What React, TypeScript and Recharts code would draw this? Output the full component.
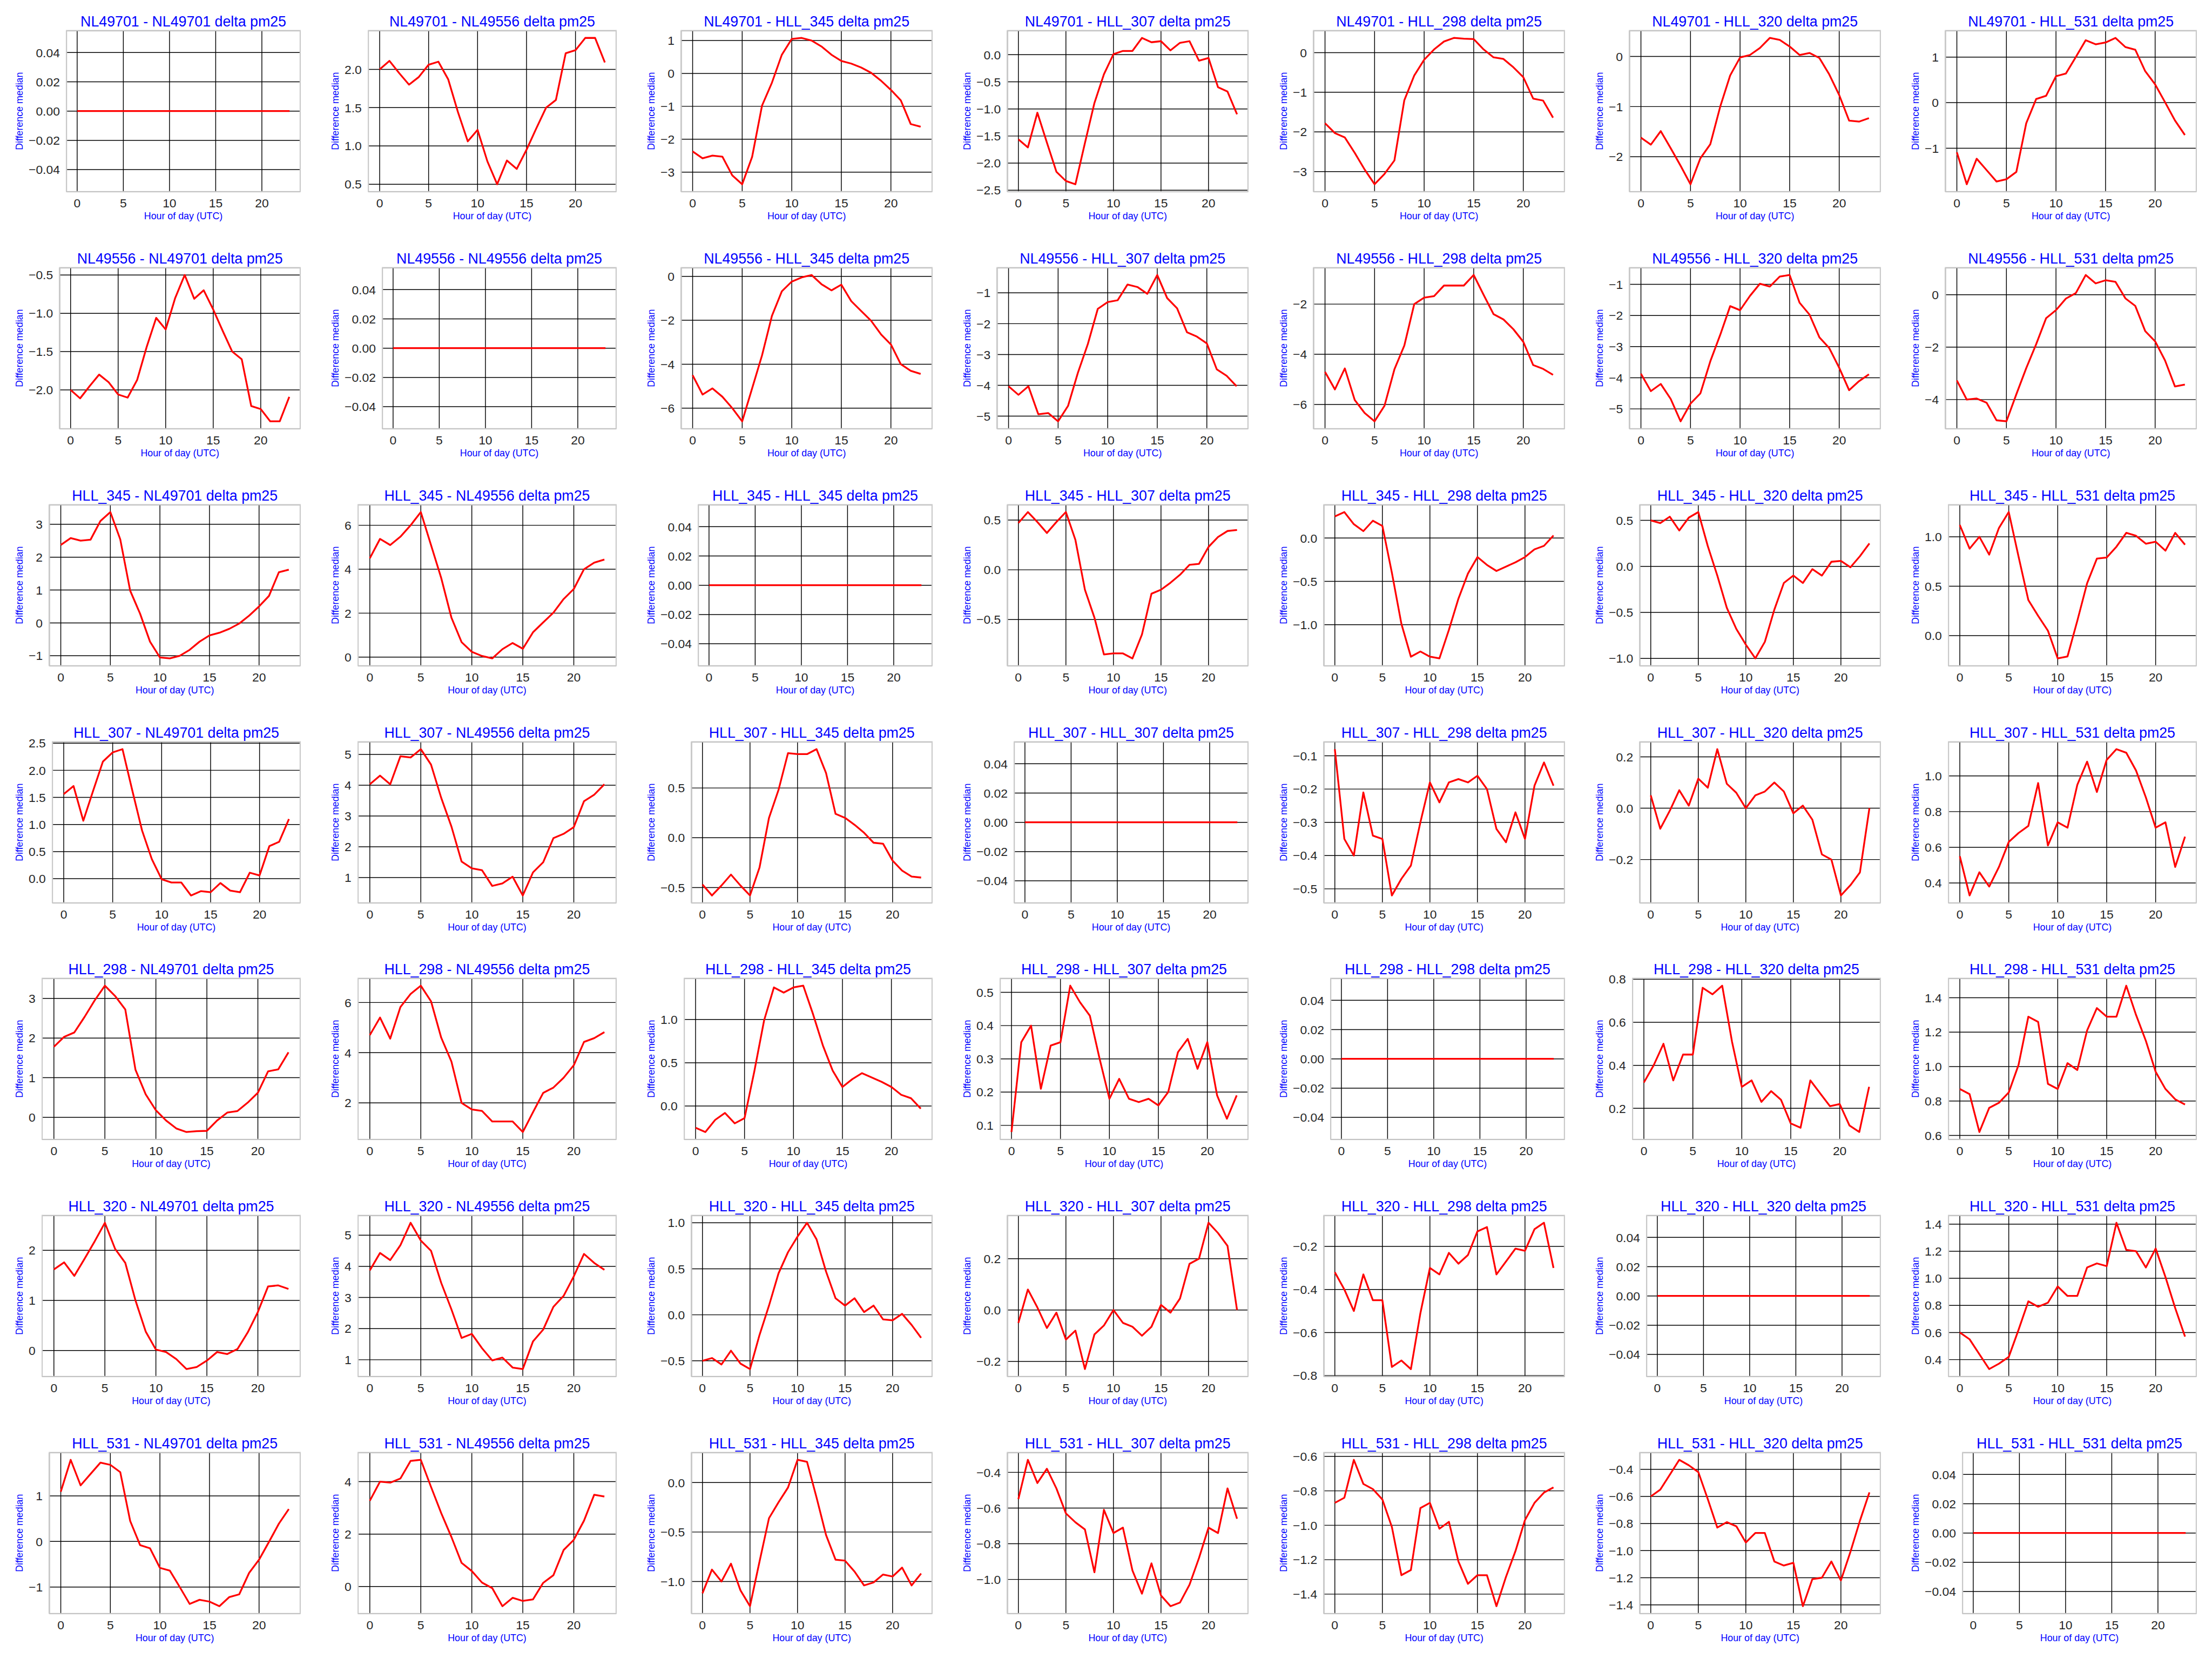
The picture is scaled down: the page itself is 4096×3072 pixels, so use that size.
import { LineChart, Line, XAxis, YAxis, CartesianGrid, ReferenceArea } from "recharts";

// scale from the 4480x3360 reference to the 4096x3072 window
const S = 4096 / 4480;
const FONT = "Liberation Sans, Arial, sans-serif";
const BLUE = "#0000ff";
const TICK_FS = 25;
const TITLE_FS = 29.3;
const LABEL_FS = 19.5;

const stations = ["NL49701", "NL49556", "HLL_345", "HLL_307", "HLL_298", "HLL_320", "HLL_531"];
const hours = [0, 1, 2, 3, 4, 5, 6, 7, 8, 9, 10, 11, 12, 13, 14, 15, 16, 17, 18, 19, 20, 21, 22, 23];
const xTicks = [0, 5, 10, 15, 20];

// sRC = stations[R] - stations[C], median difference per hour
const zero = [0, 0, 0, 0, 0, 0, 0, 0, 0, 0, 0, 0, 0, 0, 0, 0, 0, 0, 0, 0, 0, 0, 0, 0];
const s01 = [2.0, 2.11, 1.95, 1.8, 1.9, 2.06, 2.1, 1.87, 1.44, 1.06, 1.21, 0.8, 0.5, 0.81, 0.7, 0.95, 1.23, 1.5, 1.6, 2.21, 2.25, 2.41, 2.41, 2.09];
const s02 = [-2.37, -2.58, -2.5, -2.53, -3.1, -3.37, -2.54, -0.98, -0.28, 0.57, 1.05, 1.08, 1.0, 0.82, 0.57, 0.38, 0.3, 0.18, 0.02, -0.22, -0.5, -0.82, -1.54, -1.62];
const s03 = [-1.56, -1.71, -1.07, -1.62, -2.16, -2.33, -2.39, -1.63, -0.89, -0.36, 0.01, 0.07, 0.07, 0.31, 0.23, 0.25, 0.08, 0.22, 0.25, -0.11, -0.06, -0.6, -0.68, -1.1];
const s04 = [-1.78, -2.03, -2.14, -2.53, -2.95, -3.32, -3.06, -2.72, -1.2, -0.58, -0.18, 0.08, 0.28, 0.37, 0.35, 0.34, 0.08, -0.12, -0.16, -0.37, -0.62, -1.16, -1.21, -1.64];
const s05 = [-1.62, -1.76, -1.49, -1.83, -2.18, -2.55, -2.03, -1.75, -1.0, -0.38, -0.02, 0.03, 0.17, 0.37, 0.33, 0.2, 0.03, 0.07, -0.03, -0.36, -0.77, -1.28, -1.3, -1.23];
const s06 = [-1.09, -1.79, -1.23, -1.48, -1.73, -1.68, -1.52, -0.45, 0.08, 0.15, 0.58, 0.64, 1.0, 1.37, 1.28, 1.32, 1.42, 1.22, 1.16, 0.69, 0.4, 0.01, -0.39, -0.71];

const s10 = [-2.0, -2.11, -1.95, -1.8, -1.9, -2.06, -2.1, -1.87, -1.44, -1.06, -1.21, -0.8, -0.5, -0.81, -0.7, -0.95, -1.23, -1.5, -1.6, -2.21, -2.25, -2.41, -2.41, -2.09];
const s12 = [-4.5, -5.38, -5.1, -5.48, -6.0, -6.6, -5.1, -3.6, -1.8, -0.68, -0.24, -0.05, 0.06, -0.36, -0.64, -0.38, -1.13, -1.58, -2.02, -2.64, -3.1, -4.0, -4.3, -4.44];
const s13 = [-4.03, -4.31, -4.03, -4.94, -4.9, -5.17, -4.67, -3.59, -2.66, -1.52, -1.3, -1.24, -0.73, -0.81, -1.03, -0.42, -1.17, -1.5, -2.28, -2.42, -2.64, -3.48, -3.69, -4.03];
const s14 = [-4.7, -5.4, -4.56, -5.82, -6.34, -6.67, -6.05, -4.6, -3.65, -2.0, -1.74, -1.68, -1.26, -1.26, -1.26, -0.84, -1.63, -2.4, -2.61, -3.0, -3.5, -4.43, -4.58, -4.82];
const s15 = [-3.87, -4.43, -4.2, -4.68, -5.4, -4.83, -4.5, -3.47, -2.62, -1.7, -1.83, -1.37, -0.98, -1.07, -0.75, -0.7, -1.59, -1.97, -2.7, -3.05, -3.68, -4.4, -4.11, -3.89];
const s16 = [-3.27, -4.0, -3.96, -4.12, -4.79, -4.83, -3.8, -2.8, -1.89, -0.9, -0.59, -0.15, 0.06, 0.75, 0.43, 0.55, 0.49, -0.14, -0.43, -1.39, -1.78, -2.51, -3.5, -3.43];

const s20 = [2.37, 2.58, 2.5, 2.53, 3.1, 3.37, 2.54, 0.98, 0.28, -0.57, -1.05, -1.08, -1.0, -0.82, -0.57, -0.38, -0.3, -0.18, -0.02, 0.22, 0.5, 0.82, 1.54, 1.62];
const s21 = [4.5, 5.38, 5.1, 5.48, 6.0, 6.6, 5.1, 3.6, 1.8, 0.68, 0.24, 0.05, -0.06, 0.36, 0.64, 0.38, 1.13, 1.58, 2.02, 2.64, 3.1, 4.0, 4.3, 4.44];
const s23 = [0.47, 0.58, 0.48, 0.37, 0.48, 0.58, 0.3, -0.2, -0.48, -0.85, -0.84, -0.84, -0.89, -0.65, -0.24, -0.2, -0.13, -0.05, 0.05, 0.06, 0.23, 0.33, 0.39, 0.4];
const s24 = [0.25, 0.3, 0.16, 0.08, 0.2, 0.14, -0.4, -0.99, -1.37, -1.31, -1.37, -1.39, -1.06, -0.7, -0.41, -0.22, -0.31, -0.38, -0.33, -0.28, -0.22, -0.13, -0.09, 0.03];
const s25 = [0.5, 0.47, 0.54, 0.39, 0.53, 0.59, 0.22, -0.1, -0.45, -0.68, -0.85, -1.0, -0.82, -0.47, -0.18, -0.1, -0.18, -0.03, -0.1, 0.05, 0.06, -0.01, 0.11, 0.25];
const s26 = [1.12, 0.88, 1.0, 0.82, 1.09, 1.25, 0.8, 0.36, 0.2, 0.05, -0.23, -0.21, 0.15, 0.53, 0.78, 0.79, 0.9, 1.04, 1.01, 0.93, 0.95, 0.86, 1.04, 0.92];

const s30 = [1.56, 1.71, 1.07, 1.62, 2.16, 2.33, 2.39, 1.63, 0.89, 0.36, -0.01, -0.07, -0.07, -0.31, -0.23, -0.25, -0.08, -0.22, -0.25, 0.11, 0.06, 0.6, 0.68, 1.1];
const s31 = [4.03, 4.31, 4.03, 4.94, 4.9, 5.17, 4.67, 3.59, 2.66, 1.52, 1.3, 1.24, 0.73, 0.81, 1.03, 0.42, 1.17, 1.5, 2.28, 2.42, 2.64, 3.48, 3.69, 4.03];
const s32 = [-0.47, -0.58, -0.48, -0.37, -0.48, -0.58, -0.3, 0.2, 0.48, 0.85, 0.84, 0.84, 0.89, 0.65, 0.24, 0.2, 0.13, 0.05, -0.05, -0.06, -0.23, -0.33, -0.39, -0.4];
const s34 = [-0.08, -0.35, -0.4, -0.21, -0.34, -0.35, -0.52, -0.47, -0.43, -0.3, -0.18, -0.24, -0.18, -0.17, -0.18, -0.16, -0.2, -0.32, -0.36, -0.27, -0.35, -0.19, -0.12, -0.19];
const s35 = [0.05, -0.08, -0.01, 0.07, 0.01, 0.115, 0.08, 0.23, 0.095, 0.06, 0.0, 0.05, 0.065, 0.1, 0.065, -0.02, 0.01, -0.045, -0.18, -0.2, -0.34, -0.3, -0.25, 0.0];
const s36 = [0.55, 0.33, 0.46, 0.38, 0.49, 0.63, 0.68, 0.72, 0.96, 0.61, 0.74, 0.71, 0.95, 1.08, 0.91, 1.09, 1.15, 1.13, 1.03, 0.88, 0.71, 0.74, 0.49, 0.66];

const s40 = [1.78, 2.03, 2.14, 2.53, 2.95, 3.32, 3.06, 2.72, 1.2, 0.58, 0.18, -0.08, -0.28, -0.37, -0.35, -0.34, -0.08, 0.12, 0.16, 0.37, 0.62, 1.16, 1.21, 1.64];
const s41 = [4.7, 5.4, 4.56, 5.82, 6.34, 6.67, 6.05, 4.6, 3.65, 2.0, 1.74, 1.68, 1.26, 1.26, 1.26, 0.84, 1.63, 2.4, 2.61, 3.0, 3.5, 4.43, 4.58, 4.82];
const s42 = [-0.25, -0.3, -0.16, -0.08, -0.2, -0.14, 0.4, 0.99, 1.37, 1.31, 1.37, 1.39, 1.06, 0.7, 0.41, 0.22, 0.31, 0.38, 0.33, 0.28, 0.22, 0.13, 0.09, -0.03];
const s43 = [0.08, 0.35, 0.4, 0.21, 0.34, 0.35, 0.52, 0.47, 0.43, 0.3, 0.18, 0.24, 0.18, 0.17, 0.18, 0.16, 0.2, 0.32, 0.36, 0.27, 0.35, 0.19, 0.12, 0.19];
const s45 = [0.32, 0.4, 0.5, 0.33, 0.45, 0.45, 0.76, 0.73, 0.77, 0.51, 0.3, 0.33, 0.23, 0.28, 0.24, 0.13, 0.11, 0.33, 0.27, 0.21, 0.22, 0.12, 0.09, 0.3];
const s46 = [0.87, 0.84, 0.62, 0.76, 0.79, 0.85, 1.01, 1.29, 1.26, 0.9, 0.87, 1.02, 0.98, 1.21, 1.34, 1.29, 1.29, 1.47, 1.3, 1.15, 0.97, 0.87, 0.81, 0.78];

const s50 = [1.62, 1.76, 1.49, 1.83, 2.18, 2.55, 2.03, 1.75, 1.0, 0.38, 0.02, -0.03, -0.17, -0.37, -0.33, -0.2, -0.03, -0.07, 0.03, 0.36, 0.77, 1.28, 1.3, 1.23];
const s51 = [3.87, 4.43, 4.2, 4.68, 5.4, 4.83, 4.5, 3.47, 2.62, 1.7, 1.83, 1.37, 0.98, 1.07, 0.75, 0.7, 1.59, 1.97, 2.7, 3.05, 3.68, 4.4, 4.11, 3.89];
const s52 = [-0.5, -0.47, -0.54, -0.39, -0.53, -0.59, -0.22, 0.1, 0.45, 0.68, 0.85, 1.0, 0.82, 0.47, 0.18, 0.1, 0.18, 0.03, 0.1, -0.05, -0.06, 0.01, -0.11, -0.25];
const s53 = [-0.05, 0.08, 0.01, -0.07, -0.01, -0.115, -0.08, -0.23, -0.095, -0.06, 0.0, -0.05, -0.065, -0.1, -0.065, 0.02, -0.01, 0.045, 0.18, 0.2, 0.34, 0.3, 0.25, 0.0];
const s54 = [-0.32, -0.4, -0.5, -0.33, -0.45, -0.45, -0.76, -0.73, -0.77, -0.51, -0.3, -0.33, -0.23, -0.28, -0.24, -0.13, -0.11, -0.33, -0.27, -0.21, -0.22, -0.12, -0.09, -0.3];
const s56 = [0.6, 0.55, 0.44, 0.33, 0.37, 0.42, 0.62, 0.83, 0.79, 0.82, 0.94, 0.87, 0.87, 1.08, 1.11, 1.09, 1.41, 1.21, 1.2, 1.08, 1.22, 1.01, 0.78, 0.57];

const s60 = [1.09, 1.79, 1.23, 1.48, 1.73, 1.68, 1.52, 0.45, -0.08, -0.15, -0.58, -0.64, -1.0, -1.37, -1.28, -1.32, -1.42, -1.22, -1.16, -0.69, -0.4, -0.01, 0.39, 0.71];
const s61 = [3.27, 4.0, 3.96, 4.12, 4.79, 4.83, 3.8, 2.8, 1.89, 0.9, 0.59, 0.15, -0.06, -0.75, -0.43, -0.55, -0.49, 0.14, 0.43, 1.39, 1.78, 2.51, 3.5, 3.43];
const s62 = [-1.12, -0.88, -1.0, -0.82, -1.09, -1.25, -0.8, -0.36, -0.2, -0.05, 0.23, 0.21, -0.15, -0.53, -0.78, -0.79, -0.9, -1.04, -1.01, -0.93, -0.95, -0.86, -1.04, -0.92];
const s63 = [-0.55, -0.33, -0.46, -0.38, -0.49, -0.63, -0.68, -0.72, -0.96, -0.61, -0.74, -0.71, -0.95, -1.08, -0.91, -1.09, -1.15, -1.13, -1.03, -0.88, -0.71, -0.74, -0.49, -0.66];
const s64 = [-0.87, -0.84, -0.62, -0.76, -0.79, -0.85, -1.01, -1.29, -1.26, -0.9, -0.87, -1.02, -0.98, -1.21, -1.34, -1.29, -1.29, -1.47, -1.3, -1.15, -0.97, -0.87, -0.81, -0.78];
const s65 = [-0.6, -0.55, -0.44, -0.33, -0.37, -0.42, -0.62, -0.83, -0.79, -0.82, -0.94, -0.87, -0.87, -1.08, -1.11, -1.09, -1.41, -1.21, -1.2, -1.08, -1.22, -1.01, -0.78, -0.57];

const series = [
  [zero, s01, s02, s03, s04, s05, s06],
  [s10, zero, s12, s13, s14, s15, s16],
  [s20, s21, zero, s23, s24, s25, s26],
  [s30, s31, s32, zero, s34, s35, s36],
  [s40, s41, s42, s43, zero, s45, s46],
  [s50, s51, s52, s53, s54, zero, s56],
  [s60, s61, s62, s63, s64, s65, zero],
];

// y tick labels per panel
const tZ = ["-0.04", "-0.02", "0.00", "0.02", "0.04"];
const yTicks = [
  [tZ, ["0.5", "1.0", "1.5", "2.0"], ["-3", "-2", "-1", "0", "1"], ["-2.5", "-2.0", "-1.5", "-1.0", "-0.5", "0.0"], ["-3", "-2", "-1", "0"], ["-2", "-1", "0"], ["-1", "0", "1"]],
  [["-2.0", "-1.5", "-1.0", "-0.5"], tZ, ["-6", "-4", "-2", "0"], ["-5", "-4", "-3", "-2", "-1"], ["-6", "-4", "-2"], ["-5", "-4", "-3", "-2", "-1"], ["-4", "-2", "0"]],
  [["-1", "0", "1", "2", "3"], ["0", "2", "4", "6"], tZ, ["-0.5", "0.0", "0.5"], ["-1.0", "-0.5", "0.0"], ["-1.0", "-0.5", "0.0", "0.5"], ["0.0", "0.5", "1.0"]],
  [["0.0", "0.5", "1.0", "1.5", "2.0", "2.5"], ["1", "2", "3", "4", "5"], ["-0.5", "0.0", "0.5"], tZ, ["-0.5", "-0.4", "-0.3", "-0.2", "-0.1"], ["-0.2", "0.0", "0.2"], ["0.4", "0.6", "0.8", "1.0"]],
  [["0", "1", "2", "3"], ["2", "4", "6"], ["0.0", "0.5", "1.0"], ["0.1", "0.2", "0.3", "0.4", "0.5"], tZ, ["0.2", "0.4", "0.6", "0.8"], ["0.6", "0.8", "1.0", "1.2", "1.4"]],
  [["0", "1", "2"], ["1", "2", "3", "4", "5"], ["-0.5", "0.0", "0.5", "1.0"], ["-0.2", "0.0", "0.2"], ["-0.8", "-0.6", "-0.4", "-0.2"], tZ, ["0.4", "0.6", "0.8", "1.0", "1.2", "1.4"]],
  [["-1", "0", "1"], ["0", "2", "4"], ["-1.0", "-0.5", "0.0"], ["-1.0", "-0.8", "-0.6", "-0.4"], ["-1.4", "-1.2", "-1.0", "-0.8", "-0.6"], ["-1.4", "-1.2", "-1.0", "-0.8", "-0.6", "-0.4"], tZ],
];

// Arial / Liberation Sans advance widths (em)
const charW: Record<string, number> = { ".": 0.278, "\u2212": 0.584 };
const textWidth = (t: string) => [...t].reduce((a, ch) => a + (charW[ch] ?? 0.556), 0) * TICK_FS;
const minus = (t: string) => t.replace("-", "\u2212");

function Panel({ r, c }: { r: number; c: number }) {
  const vals = series[r][c];
  const labels = yTicks[r][c];
  const tickVals = labels.map(Number);
  const lab = new Map(tickVals.map((v, i) => [v, minus(labels[i])]));

  let lo = Math.min(...vals);
  let hi = Math.max(...vals);
  if (hi - lo === 0) {
    lo = -0.055;
    hi = 0.055;
  } else {
    const pad = (hi - lo) * 0.05;
    lo -= pad;
    hi += pad;
  }

  const maxW = Math.max(...labels.map((l) => textWidth(minus(l))));
  const yw = (13.5 + maxW) * S;
  const plotLeft = 58 * S + yw;
  const plotRight = 608 * S;
  const cx = (plotLeft + plotRight) / 2;
  const rows = hours.map((h, i) => ({ h, v: vals[i] }));
  const title = `${stations[r]} - ${stations[c]} delta pm25`;

  return (
    <div style={{ position: "absolute", left: c * 640 * S, top: r * 480 * S }}>
      <LineChart
        width={640 * S}
        height={480 * S}
        data={rows}
        margin={{ top: 62 * S, right: 32 * S, bottom: 0, left: 58 * S }}
      >
        <CartesianGrid stroke="#000000" strokeWidth={1.6 * S} />
        <XAxis
          type="number"
          dataKey="h"
          domain={[-1.15, 24.15]}
          ticks={xTicks}
          allowDataOverflow
          interval={0}
          axisLine={false}
          tickLine={false}
          tickSize={0}
          tickMargin={0}
          height={92 * S}
          tick={(p: any) => (
            <text x={p.x} y={p.y + 32 * S} textAnchor="middle" fontSize={TICK_FS * S} fill="#262626" fontFamily={FONT}>
              {p.payload.value}
            </text>
          )}
          label={() => (
            <g>
              <text x={cx} y={444.5 * S} textAnchor="middle" fontSize={LABEL_FS * S} fill={BLUE} fontFamily={FONT}>
                Hour of day (UTC)
              </text>
              <text x={cx} y={53.3 * S} textAnchor="middle" fontSize={TITLE_FS * S} fill={BLUE} fontFamily={FONT}>
                {title}
              </text>
            </g>
          )}
        />
        <YAxis
          type="number"
          domain={[lo, hi]}
          ticks={tickVals}
          allowDataOverflow
          interval={0}
          axisLine={false}
          tickLine={false}
          tickSize={0}
          tickMargin={0}
          width={yw}
          tick={(p: any) => (
            <text
              x={p.x - 13.5 * S}
              y={p.y + 0.358 * TICK_FS * S}
              textAnchor="end"
              fontSize={TICK_FS * S}
              fill="#262626"
              fontFamily={FONT}
            >
              {lab.get(p.payload.value) ?? p.payload.value}
            </text>
          )}
          label={() => (
            <text
              x={46 * S}
              y={225 * S}
              transform={`rotate(-90 ${46 * S} ${225 * S})`}
              textAnchor="middle"
              fontSize={LABEL_FS * S}
              fill={BLUE}
              fontFamily={FONT}
            >
              Difference median
            </text>
          )}
        />
        <ReferenceArea
          x1={-1.15}
          x2={24.15}
          y1={lo}
          y2={hi}
          fill="none"
          stroke="#cccccc"
          strokeWidth={2.4 * S}
          ifOverflow="visible"
        />
        <Line
          type="linear"
          dataKey="v"
          stroke="#ff0000"
          strokeWidth={3.6 * S}
          strokeLinejoin="round"
          dot={false}
          activeDot={false}
          isAnimationActive={false}
        />
      </LineChart>
    </div>
  );
}

export default function App() {
  const cells = [];
  for (let r = 0; r < 7; r++) {
    for (let c = 0; c < 7; c++) cells.push(<Panel key={`${r}-${c}`} r={r} c={c} />);
  }
  return (
    <div style={{ position: "absolute", left: 0, top: 0, width: 4096, height: 3072, background: "#ffffff" }}>
      {cells}
    </div>
  );
}
